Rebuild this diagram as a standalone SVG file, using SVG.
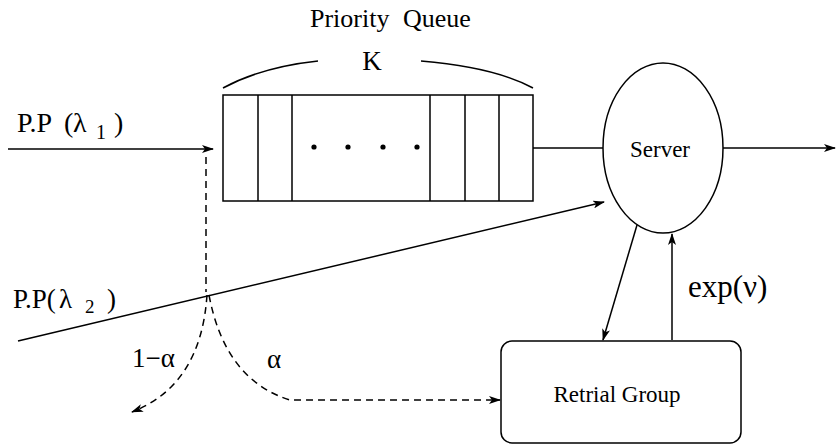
<svg xmlns="http://www.w3.org/2000/svg" width="838" height="445" viewBox="0 0 838 445">
<style>
.ln{fill:none;stroke:#000;stroke-width:1.5}
.ds{fill:none;stroke:#000;stroke-width:1.5;stroke-dasharray:7 5}
text{font-family:'Liberation Serif','Times New Roman',serif;fill:#000}
</style>
<defs>
<marker id="ah" viewBox="0 0 12 8" refX="11" refY="4" markerWidth="12" markerHeight="8" markerUnits="userSpaceOnUse" orient="auto">
<path d="M0,0 L12,4 L0,8 L3,4 z" fill="#000"/>
</marker>
</defs>
<rect width="838" height="445" fill="#fff"/>
<g id="title">
<text x="310" y="27" font-size="26">Priority</text>
<text x="403" y="27" font-size="26">Queue</text>
</g>
<g id="capacity">
<path class="ln" d="M223,88 Q262,67 318,61"/>
<path class="ln" d="M421,61 Q494,67 533,88"/>
<text x="372" y="70" font-size="27" text-anchor="middle">K</text>
</g>
<g id="queue">
<rect class="ln" x="223" y="95" width="310" height="106"/>
<path class="ln" d="M258,95V201M292,95V201M430,95V201M465,95V201M499,95V201"/>
<circle cx="314" cy="147" r="2.6"/>
<circle cx="348" cy="147" r="2.6"/>
<circle cx="383" cy="147" r="2.6"/>
<circle cx="417" cy="147" r="2.6"/>
</g>
<g id="server">
<ellipse class="ln" cx="663" cy="148" rx="60" ry="85"/>
<text x="660" y="157" font-size="23" text-anchor="middle">Server</text>
</g>
<g id="retrial">
<rect class="ln" x="501" y="341" width="240" height="102" rx="11" ry="11"/>
<text x="617" y="402" font-size="23" text-anchor="middle">Retrial Group</text>
</g>
<g id="labels">
<text font-size="28" y="132"><tspan x="17">P.P</tspan><tspan x="64">(</tspan><tspan x="73">λ</tspan><tspan x="96" y="139" font-size="20">1</tspan><tspan x="114" y="132">)</tspan></text>
<text font-size="27" y="308"><tspan x="13">P.P(</tspan><tspan x="59">λ</tspan><tspan x="85" y="313" font-size="19">2</tspan><tspan x="107" y="308">)</tspan></text>
<text x="132" y="367" font-size="27">1−α</text>
<text x="267" y="368" font-size="27">α</text>
<text x="688" y="297" font-size="31">exp(ν)</text>
</g>
<g id="connectors">
<line class="ln" x1="8" y1="149" x2="213" y2="149" marker-end="url(#ah)"/>
<line class="ln" x1="533" y1="148" x2="603" y2="148"/>
<line class="ln" x1="723" y1="148" x2="835" y2="148" marker-end="url(#ah)"/>
<line class="ln" x1="18" y1="341" x2="604" y2="202" marker-end="url(#ah)"/>
<line class="ln" x1="637" y1="225" x2="603" y2="340" marker-end="url(#ah)"/>
<line class="ln" x1="672" y1="340" x2="672" y2="234" marker-end="url(#ah)"/>
<line class="ds" x1="206" y1="157" x2="206" y2="292"/>
<path class="ds" d="M207,295 Q201,385 132,412" marker-end="url(#ah)"/>
<path class="ds" d="M209,295 Q225,380 290,400 L500,400" marker-end="url(#ah)"/>
</g>
</svg>
